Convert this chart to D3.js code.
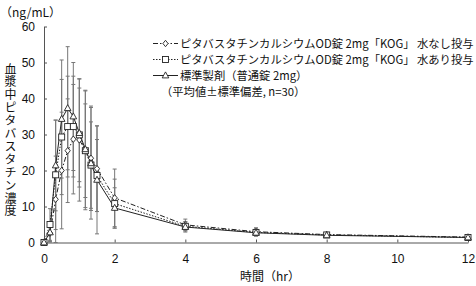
<!DOCTYPE html>
<html>
<head>
<meta charset="utf-8">
<script src="https://cdn.jsdelivr.net/npm/d3@7"></script>
<style>
  body { margin: 0; background: #fff; }
  svg { display: block; }
</style>
</head>
<body>
<main></main>
<script>
// Set dimensions
const w = 476;
const h = 286;

// Data (hours, ng/mL)
const times = [0, 0.17, 0.33, 0.5, 0.67, 0.83, 1, 1.17, 1.33, 1.5, 2, 4, 6, 8, 12];
const odNoWater = [0, 2.6, 12.0, 20.0, 25.5, 28.7, 28.5, 25.7, 23.4, 20.5, 12.4, 4.9, 3.0, 2.2, 1.5];
const odNoWaterSd = [0, 2.5, 12.0, 16.2, 14.4, 15.2, 17.0, 16.6, 14.5, 11.9, 8.0, 1.6, 1.1, 0.6, 0.4];
const odWater = [0, 5.0, 18.8, 29.3, 32.2, 32.2, 29.9, 25.5, 21.5, 18.6, 10.8, 4.5, 2.8, 2.1, 1.4];
const odWaterSd = [0, 4.4, 15.2, 16.0, 14.0, 14.0, 13.0, 13.0, 12.0, 10.0, 6.8, 1.3, 1.0, 0.5, 0.3];
const standard = [0, 2.8, 21.4, 34.3, 37.3, 35.0, 30.4, 25.9, 22.0, 17.4, 9.6, 4.3, 2.7, 2.0, 1.4];
const standardSd = [0, 2.5, 12.6, 16.4, 17.1, 15.0, 15.0, 16.2, 15.5, 15.0, 5.6, 1.4, 0.9, 0.5, 0.3];

const xTicks = [0, 2, 4, 6, 8, 10, 12];
const yTicks = [0, 10, 20, 30, 40, 50, 60];

const seriesNames = [
  "ピタバスタチンカルシウムOD錠 2mg「KOG」 水なし投与",
  "ピタバスタチンカルシウムOD錠 2mg「KOG」 水あり投与",
  "標準製剤（普通錠 2mg）"
];
const noteText = "（平均値±標準偏差, n=30）";
const unitText = "（ng/mL）";
const yTitle = "血漿中ピタバスタチン濃度";
const xTitle = "時間（hr）";

const series = [
  { name: seriesNames[0], mean: odNoWater, sd: odNoWaterSd, dash: "5,2,1.5,2", shape: "diamond" },
  { name: seriesNames[1], mean: odWater, sd: odWaterSd, dash: "1.5,1.5", shape: "square" },
  { name: seriesNames[2], mean: standard, sd: standardSd, dash: null, shape: "triangle" }
];

const jpFont = "'Noto Sans CJK JP', sans-serif";
const numFont = "'Liberation Sans', Arial, sans-serif";
const ink = "#222";
const barColor = "#777";

// Create svg
const svg = d3
  .select("main")
  .append("svg")
  .attr("width", w)
  .attr("height", h)
  .attr("viewBox", `0 0 ${w} ${h}`);

// Scales
const xScale = d3.scaleLinear().domain([0, 12]).range([44, 468]);
const yScale = d3.scaleLinear().domain([0, 60]).range([242.5, 26.5]);

// X axis
const xAxis = d3
  .axisBottom(xScale)
  .tickValues(xTicks)
  .tickSizeInner(-3)
  .tickSizeOuter(0)
  .tickPadding(12);
svg
  .append("g")
  .attr("transform", `translate(0, ${yScale(0)})`)
  .call(xAxis)
  .attr("color", "#555")
  .attr("font-family", numFont)
  .attr("font-size", 12)
  .selectAll("text")
  .attr("fill", "#111");

// Y axis
const yAxis = d3
  .axisLeft(yScale)
  .tickValues(yTicks)
  .tickSizeInner(-3)
  .tickSizeOuter(0)
  .tickPadding(9);
svg
  .append("g")
  .attr("transform", `translate(${xScale(0)}, 0)`)
  .call(yAxis)
  .attr("color", "#555")
  .attr("font-family", numFont)
  .attr("font-size", 12)
  .selectAll("text")
  .attr("fill", "#111");

// Unit label
svg
  .append("text")
  .attr("x", 0)
  .attr("y", 17)
  .attr("font-family", jpFont)
  .attr("font-size", 12)
  .attr("fill", "#111")
  .text(unitText);

// Y title, vertical writing
svg
  .append("text")
  .attr("x", 10.5)
  .attr("y", 63)
  .style("writing-mode", "vertical-rl")
  .style("text-orientation", "upright")
  .attr("letter-spacing", 0.9)
  .attr("font-family", jpFont)
  .attr("font-size", 12)
  .attr("fill", "#111")
  .text(yTitle);

// X title
svg
  .append("text")
  .attr("x", 270)
  .attr("y", 281)
  .attr("text-anchor", "middle")
  .attr("font-family", jpFont)
  .attr("font-size", 12)
  .attr("fill", "#111")
  .text(xTitle);

// Marker drawing
function drawMarker(g, shape, cx, cy) {
  if (shape === "diamond") {
    g.append("path")
      .attr("d", `M${cx},${cy - 3.2}L${cx + 2.6},${cy}L${cx},${cy + 3.2}L${cx - 2.6},${cy}Z`)
      .attr("fill", "#fff")
      .attr("stroke", ink)
      .attr("stroke-width", 0.9);
  } else if (shape === "square") {
    g.append("rect")
      .attr("x", cx - 3)
      .attr("y", cy - 3)
      .attr("width", 6)
      .attr("height", 6)
      .attr("fill", "#fff")
      .attr("stroke", ink)
      .attr("stroke-width", 0.9);
  } else {
    g.append("path")
      .attr("d", `M${cx},${cy - 3.6}L${cx + 3.3},${cy + 2.4}L${cx - 3.3},${cy + 2.4}Z`)
      .attr("fill", "#fff")
      .attr("stroke", ink)
      .attr("stroke-width", 0.9);
  }
}

// Error bars
const bars = svg.append("g").attr("stroke", barColor).attr("stroke-width", 1);
series.forEach((s) => {
  times.forEach((t, i) => {
    if (s.sd[i] <= 0) return;
    const x0 = xScale(t);
    const lo = Math.max(0, s.mean[i] - s.sd[i]);
    const hi = s.mean[i] + s.sd[i];
    bars.append("line")
      .attr("x1", x0).attr("x2", x0)
      .attr("y1", yScale(lo)).attr("y2", yScale(hi));
    [lo, hi].forEach((v) => {
      bars.append("line")
        .attr("x1", x0 - 2).attr("x2", x0 + 2)
        .attr("y1", yScale(v)).attr("y2", yScale(v));
    });
  });
});

// Lines
const line = d3
  .line()
  .x((d) => xScale(d[0]))
  .y((d) => yScale(d[1]));

series.forEach((s) => {
  svg
    .append("path")
    .datum(times.map((t, i) => [t, s.mean[i]]))
    .attr("d", line)
    .attr("fill", "none")
    .attr("stroke", ink)
    .attr("stroke-width", 1)
    .attr("stroke-dasharray", s.dash);
});

// Markers
const markers = svg.append("g");
series.forEach((s) => {
  times.forEach((t, i) => {
    drawMarker(markers, s.shape, xScale(t), yScale(s.mean[i]));
  });
});

// Legend
const legend = svg.append("g");
const rowY = [43.5, 59.5, 75.5];
series.forEach((s, i) => {
  legend
    .append("line")
    .attr("x1", 153)
    .attr("x2", 178)
    .attr("y1", rowY[i])
    .attr("y2", rowY[i])
    .attr("stroke", ink)
    .attr("stroke-width", 1)
    .attr("stroke-dasharray", s.dash);
  drawMarker(legend, s.shape, 165.5, rowY[i]);
  legend
    .append("text")
    .attr("x", 180)
    .attr("y", rowY[i] + 4)
    .attr("font-family", jpFont)
    .attr("font-size", 11.3)
    .attr("fill", "#111")
    .text(s.name);
});

legend
  .append("text")
  .attr("x", 161)
  .attr("y", 95.5)
  .attr("font-family", jpFont)
  .attr("font-size", 11.3)
  .attr("fill", "#111")
  .text(noteText);
</script>
</body>
</html>
